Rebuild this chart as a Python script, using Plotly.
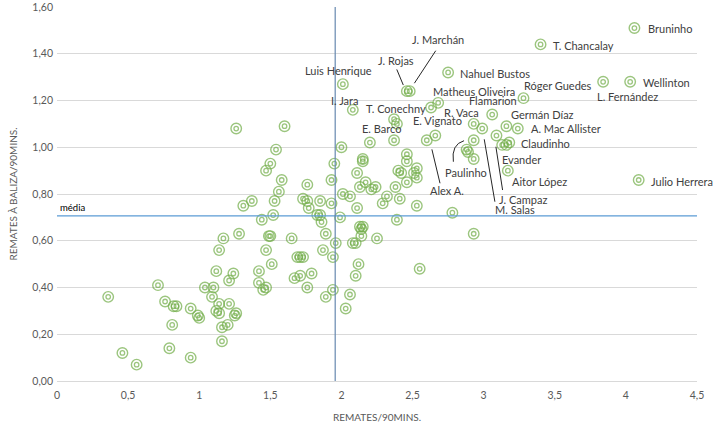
import plotly.graph_objects as go

# --- data: remates/90 (x) vs remates à baliza/90 (y) ---
remates = [
    0.36, 0.46, 0.56, 0.71, 0.76, 0.82, 0.84, 0.81, 0.79, 0.94, 0.99, 1.00, 0.94,
    1.04, 1.10, 1.09, 1.12, 1.24, 1.21, 1.14, 1.21, 1.12, 1.14, 1.26, 1.25, 1.16,
    1.20, 1.16, 1.42, 1.42, 1.47, 1.45, 1.51, 1.14, 1.47, 1.69, 1.71, 1.73, 1.87,
    1.94, 1.67, 1.71, 1.79, 1.76, 1.89, 1.94, 1.17, 1.28, 1.49, 1.50, 1.65, 1.89,
    1.31, 1.37, 1.53, 1.52, 1.44, 1.73, 1.76, 1.77, 1.85, 1.83, 1.85, 1.86, 1.58,
    1.56, 1.76, 1.50, 1.47, 1.54, 1.26, 1.60, 1.96, 1.95, 1.93, 1.93, 1.99, 2.00,
    2.01, 2.08, 2.20, 2.15, 2.15, 2.11, 2.17, 2.13, 2.21, 2.24, 2.01, 2.06, 2.11,
    2.13, 2.15, 2.14, 2.14, 2.08, 2.10, 2.25, 2.12, 2.10, 2.06, 2.03, 2.37, 2.39,
    2.37, 2.46, 2.46, 2.40, 2.42, 2.53, 2.51, 2.53, 2.46, 2.38, 2.32, 2.29, 2.41,
    2.53, 2.39, 2.46, 2.48, 2.75, 2.68, 2.63, 2.60, 2.66, 2.78, 2.93, 2.55, 2.93,
    2.99, 3.06, 3.28, 2.93, 2.88, 2.89, 2.93, 3.09, 3.16, 3.24, 3.13, 3.16, 3.18,
    3.17, 3.40, 4.06, 3.84, 4.03, 4.09,
]
remates_baliza = [
    0.36, 0.12, 0.07, 0.41, 0.34, 0.32, 0.32, 0.24, 0.14, 0.31, 0.28, 0.27, 0.10,
    0.40, 0.40, 0.36, 0.47, 0.46, 0.43, 0.33, 0.33, 0.30, 0.29, 0.29, 0.28, 0.23,
    0.24, 0.17, 0.47, 0.42, 0.40, 0.39, 0.50, 0.56, 0.56, 0.53, 0.53, 0.53, 0.56,
    0.53, 0.44, 0.45, 0.46, 0.40, 0.36, 0.39, 0.61, 0.63, 0.62, 0.62, 0.61, 0.63,
    0.75, 0.77, 0.77, 0.71, 0.69, 0.78, 0.77, 0.74, 0.77, 0.71, 0.71, 0.68, 0.86,
    0.81, 0.84, 0.93, 0.90, 0.99, 1.08, 1.09, 0.59, 0.93, 0.86, 0.76, 0.70, 1.00,
    1.27, 1.16, 1.02, 0.95, 0.94, 0.89, 0.85, 0.83, 0.82, 0.83, 0.80, 0.79, 0.74,
    0.66, 0.66, 0.65, 0.62, 0.59, 0.59, 0.61, 0.50, 0.45, 0.37, 0.31, 1.12, 1.10,
    1.03, 0.97, 0.94, 0.90, 0.89, 0.91, 0.89, 0.87, 0.85, 0.83, 0.79, 0.76, 0.78,
    0.75, 0.69, 1.24, 1.24, 1.32, 1.19, 1.17, 1.03, 1.05, 0.72, 0.63, 0.48, 1.10,
    1.08, 1.14, 1.21, 1.03, 0.99, 0.98, 0.95, 1.05, 1.09, 1.08, 1.01, 1.01, 1.02,
    0.90, 1.44, 1.51, 1.28, 1.28, 0.86,
]

media_x = 1.956
media_y = 0.706

# --- labels (text, x, y) ---
label_names = ["Bruninho", "T. Chancalay", "Wellinton", "Róger Guedes", "L. Fernández",
               "Nahuel Bustos", "J. Marchán", "J. Rojas", "Luis Henrique", "I. Jara",
               "Matheus Oliveira", "Flamarion", "Germán Díaz", "R. Vaca", "T. Conechny",
               "E. Vignato", "E. Barco", "A. Mac Allister", "Claudinho", "Paulinho",
               "Evander", "Aitor López", "Julio Herrera", "Alex A.", "J. Campaz", "M. Salas"]
label_x = [4.308, 3.704, 4.287, 3.522, 4.010, 3.080, 2.679, 2.381, 1.977, 2.019,
           2.932, 3.065, 3.413, 2.844, 2.381, 2.676, 2.279, 3.578, 3.438, 2.876,
           3.269, 3.395, 4.396, 2.740, 3.276, 3.220]
label_y = [1.506, 1.437, 1.279, 1.266, 1.216, 1.316, 1.459, 1.370, 1.330, 1.202,
           1.238, 1.198, 1.142, 1.148, 1.167, 1.114, 1.081, 1.081, 1.014, 0.891,
           0.948, 0.853, 0.853, 0.813, 0.777, 0.735]

# leader lines (x0, y0, x1, y1)
leader_x0 = [2.389, 2.663, 2.636, 3.004, 3.086]
leader_y0 = [1.333, 1.413, 0.991, 1.034, 1.002]
leader_x1 = [2.435, 2.513, 2.693, 3.079, 3.133]
leader_y1 = [1.266, 1.274, 0.846, 0.767, 0.817]

green = "rgba(112,173,71,0.70)"

fig = go.Figure()
fig.add_trace(go.Scatter(x=remates, y=remates_baliza, mode="markers",
                         marker=dict(symbol="circle-open", size=10.5, color=green,
                                     line=dict(width=1.4, color=green)),
                         hoverinfo="x+y", showlegend=False, cliponaxis=False))
fig.add_trace(go.Scatter(x=remates, y=remates_baliza, mode="markers",
                         marker=dict(symbol="circle-open", size=4.5, color=green,
                                     line=dict(width=1.3, color=green)),
                         hoverinfo="skip", showlegend=False, cliponaxis=False))

# mean lines
fig.add_trace(go.Scatter(x=[0, 4.5], y=[media_y, media_y], mode="lines",
                         line=dict(color="#5b9bd5", width=1.2), hoverinfo="skip",
                         showlegend=False))
fig.add_trace(go.Scatter(x=[media_x, media_x], y=[0, 1.6], mode="lines",
                         line=dict(color="#6688b0", width=1.2), hoverinfo="skip",
                         showlegend=False))

for name, lx, ly in zip(label_names, label_x, label_y):
    fig.add_annotation(x=lx, y=ly, text=name, showarrow=False, xanchor="center",
                       yanchor="middle", font=dict(family="Lato", size=11, color="#404040"))

for x0, y0, x1, y1 in zip(leader_x0, leader_y0, leader_x1, leader_y1):
    fig.add_shape(type="line", x0=x0, y0=y0, x1=x1, y1=y1, xref="x", yref="y",
                  line=dict(color="#262626", width=1))
# Paulinho curved leader
fig.add_shape(type="path", path="M 2.862,1.028 Q 2.770,1.012 2.787,0.938", xref="x", yref="y",
              line=dict(color="#262626", width=1))

fig.add_annotation(x=0.01, y=0.742, text="média", showarrow=False, xanchor="left",
                   yanchor="middle", font=dict(family="Lato", size=9.5, color="#000000"))

fig.update_layout(
    width=720, height=438,
    margin=dict(l=57, r=23, t=7, b=57, autoexpand=False),
    paper_bgcolor="white", plot_bgcolor="white",
    separators=",.",
    font=dict(family="Lato", color="#595959", size=10.5),
    showlegend=False,
)
fig.update_xaxes(range=[0, 4.5], dtick=0.5, tick0=0, showgrid=False, zeroline=False,
                 showline=True, linecolor="#d9d9d9", linewidth=1, ticks="",
                 automargin=False, ticklabelstandoff=4,
                 tickfont=dict(size=10.5, color="#595959"),
                 title=dict(text="REMATES/90MINS.", font=dict(size=10, color="#595959"),
                            standoff=14))
fig.update_yaxes(range=[0, 1.6], dtick=0.2, tick0=0, tickformat=".2f", showgrid=True,
                 gridcolor="#d9d9d9", gridwidth=1, zeroline=False, showline=False,
                 automargin=False, ticklabelstandoff=3,
                 ticks="", tickfont=dict(size=10.5, color="#595959"),
                 title=dict(text="REMATES À BALIZA/90MINS.", font=dict(size=10, color="#595959"),
                            standoff=12))

fig.write_html("out.html", config={"displayModeBar": False},
               post_script="document.body.style.margin='0';")
